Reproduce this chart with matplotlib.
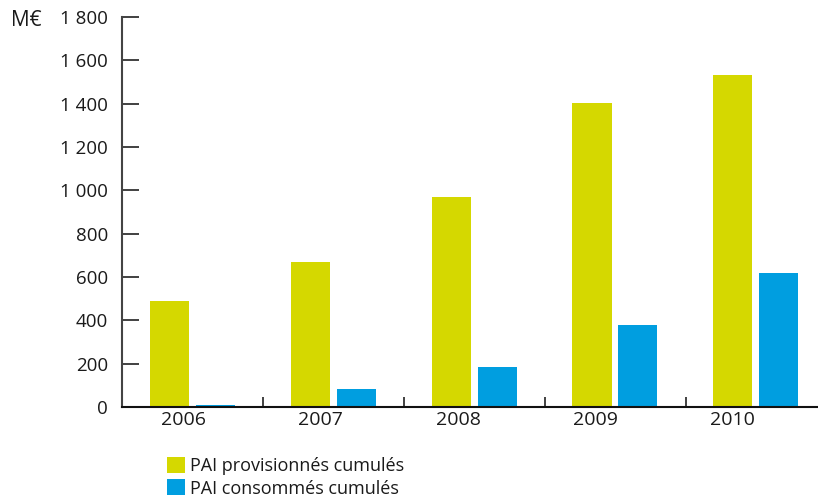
import matplotlib
matplotlib.use("Agg")
import matplotlib.pyplot as plt
import numpy as np
from matplotlib.patches import Patch

years = ["2006", "2007", "2008", "2009", "2010"]
provisionnes = [489, 669, 969, 1403, 1532]
consommes = [10, 83, 185, 378, 618]
yticks = [0, 200, 400, 600, 800, 1000, 1200, 1400, 1600, 1800]
ytick_labels = ["0", "200", "400", "600", "800", "1 000", "1 200", "1 400", "1 600", "1 800"]
series_names = ["PAI provisionnés cumulés", "PAI consommés cumulés"]

GREEN = "#D5D800"
BLUE = "#009EE0"
TXT = "#1a1a1a"

plt.rcParams['font.family'] = ['Open Sans', 'DejaVu Sans']

fig = plt.figure(figsize=(8.18, 4.99), dpi=100)
ax = fig.add_axes([122/818, 1-407/499, 1-122/818, 390/499])

x = np.arange(len(years))
w = 0.277
ax.bar(x - 0.164, provisionnes, width=w, color=GREEN, label=series_names[0], zorder=2)
ax.bar(x + 0.162, consommes, width=w, color=BLUE, label=series_names[1], zorder=2)

ax.set_xlim(-0.5, 4.44)
ax.set_ylim(0, 1800)

ax.set_yticks(yticks)
ax.set_yticklabels(ytick_labels, fontsize=13.5, color=TXT)
ax.tick_params(axis='y', direction='in', length=12, width=1.3, color='#333333', pad=10)

# category separators as major ticks, labels as minor ticks
ax.set_xticks(x[:-1] + 0.5)
ax.set_xticklabels([])
ax.tick_params(axis='x', which='major', direction='in', length=7, width=1.3, color='#333333')
label_pos = x - 0.064 - 0.025 * x
ax.set_xticks(label_pos, minor=True)
ax.set_xticklabels(years, minor=True, fontsize=14, color=TXT)
ax.tick_params(axis='x', which='minor', length=0, pad=3)

for s in ['top', 'right']:
    ax.spines[s].set_visible(False)
ax.spines['left'].set_color('#444444')
ax.spines['left'].set_linewidth(1.5)
ax.spines['bottom'].set_color('#111111')
ax.spines['bottom'].set_linewidth(1.5)

fig.text(11/818, 1-20/499, "M€", fontsize=15, color=TXT, ha='left', va='center')

handles = [Patch(facecolor=GREEN, edgecolor='none'), Patch(facecolor=BLUE, edgecolor='none')]
fig.legend(handles, series_names, loc='upper left', bbox_to_anchor=(167/818, 1-457/499),
           frameon=False, fontsize=13, handlelength=1.0, handleheight=1.0,
           handletextpad=0.3, labelspacing=0.22, borderaxespad=0, borderpad=0,
           labelcolor=TXT)

fig.savefig("out.png", dpi=100)
